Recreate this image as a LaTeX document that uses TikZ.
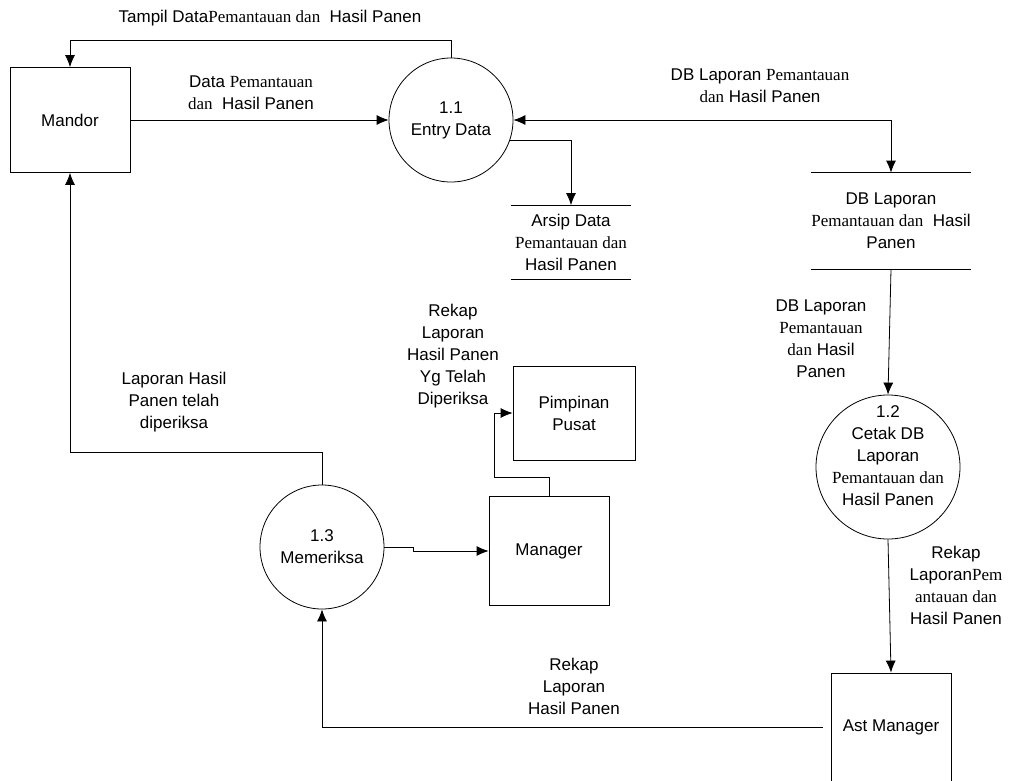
\documentclass[tikz,border=0pt]{standalone}
\usepackage{fontspec}
\setmainfont{Liberation Sans}
\newfontfamily\timesrm{Liberation Serif}
\newcommand{\tnr}[1]{{\timesrm #1}}
\usetikzlibrary{arrows.meta}
\tikzset{
	ent/.style={draw, minimum width=120pt, minimum height=105pt, inner sep=0pt},
	proc/.style={draw, circle, minimum size=124pt, inner sep=0pt, align=center},
	store/.style={minimum width=120pt, align=center, inner sep=0pt},
	lbl/.style={align=center, inner sep=0pt},
}

\begin{document}
\begin{tikzpicture}[x=1pt, y=-1pt, >={Latex[length=12pt,width=10pt]}, line width=0.8pt, font=\fontsize{17}{22}\selectfont]
		\clip (0,0) rectangle (1012,780);
		\node[ent] (mandor) at (70,120) {Mandor};
		\node[proc] (entry) at (451,120) {1.1\\Entry Data};
		\node[store, minimum height=73pt] (arsip) at (571,242) {Arsip Data\\\tnr{Pemantauan dan}\\Hasil Panen};
		\node[store, minimum height=96pt] (dblap) at (891,221) {DB Laporan\\\tnr{Pemantauan dan}\ \ Hasil\\Panen};
		\node[proc, minimum size=144pt, label={[lbl, yshift=11pt]center:{1.2\\Cetak DB\\Laporan\\\tnr{Pemantauan dan}\\Hasil Panen}}] (cetak) at (888,467) {};
		\node[ent, minimum height=108pt] (astman) at (891,727) {Ast Manager};
		\node[proc] (memeriksa) at (322,547) {1.3\\Memeriksa};
		\node[ent, minimum height=109pt] (manager) at (549,551) {Manager};
		\node[ent, minimum width=122pt, minimum height=94pt, align=center] (pimpinan) at (574,413) {Pimpinan\\Pusat};

		\draw (arsip.north west) -- (arsip.north east) (arsip.south west) -- (arsip.south east);
		\draw (dblap.north west) -- (dblap.north east) (dblap.south west) -- (dblap.south east);

		\draw[->] (entry.north) |- (70,40) -- (mandor.north);
		\draw[->] (mandor.east) -- (entry.west);
		\draw[<->] (entry.east) -- (891,120) -- (dblap.north);
		\draw[->] (entry.-19) -| (arsip.north);
		\draw[->] (dblap.south) -- (cetak.north);
		\draw[->] (cetak.south) -- (astman.north);
		\draw[->] ([xshift=-8pt]astman.west) -| (memeriksa.south);
		\draw[->] (memeriksa.east) -- ++(29,0) |- (manager.west);
		\draw[->] (manager.north) |- (494,477) |- (pimpinan.west);
		\draw[->] (memeriksa.north) -- ++(0,-32) -| (mandor.south);

		\node[lbl] (lbltampil) at (270,18) {Tampil Data\tnr{Pemantauan dan}\ \ Hasil Panen};
		\node[lbl] (lbldata) at (251,93) {Data \tnr{Pemantauan}\\\tnr{dan}\ \ Hasil Panen};
		\node[lbl] (lbldb) at (760,86) {DB Laporan \tnr{Pemantauan}\\\tnr{dan} Hasil Panen};
		\node[lbl] (lbldbdua) at (821,339) {DB Laporan\\\tnr{Pemantauan}\\\tnr{dan} Hasil\\Panen};
		\node[lbl] (lblrekap) at (956,585) {Rekap\\Laporan\tnr{Pem}\\\tnr{antauan dan}\\Hasil Panen};
		\node[lbl] (lblrekapdua) at (574,686) {Rekap\\Laporan\\Hasil Panen};
		\node[lbl] (lblrekaptiga) at (453,356) {Rekap\\Laporan\\Hasil Panen\\Yg Telah\\Diperiksa};
		\node[lbl] (lbllaporan) at (174,402) {Laporan Hasil\\Panen telah\\diperiksa};
	\end{tikzpicture}
\end{document}
